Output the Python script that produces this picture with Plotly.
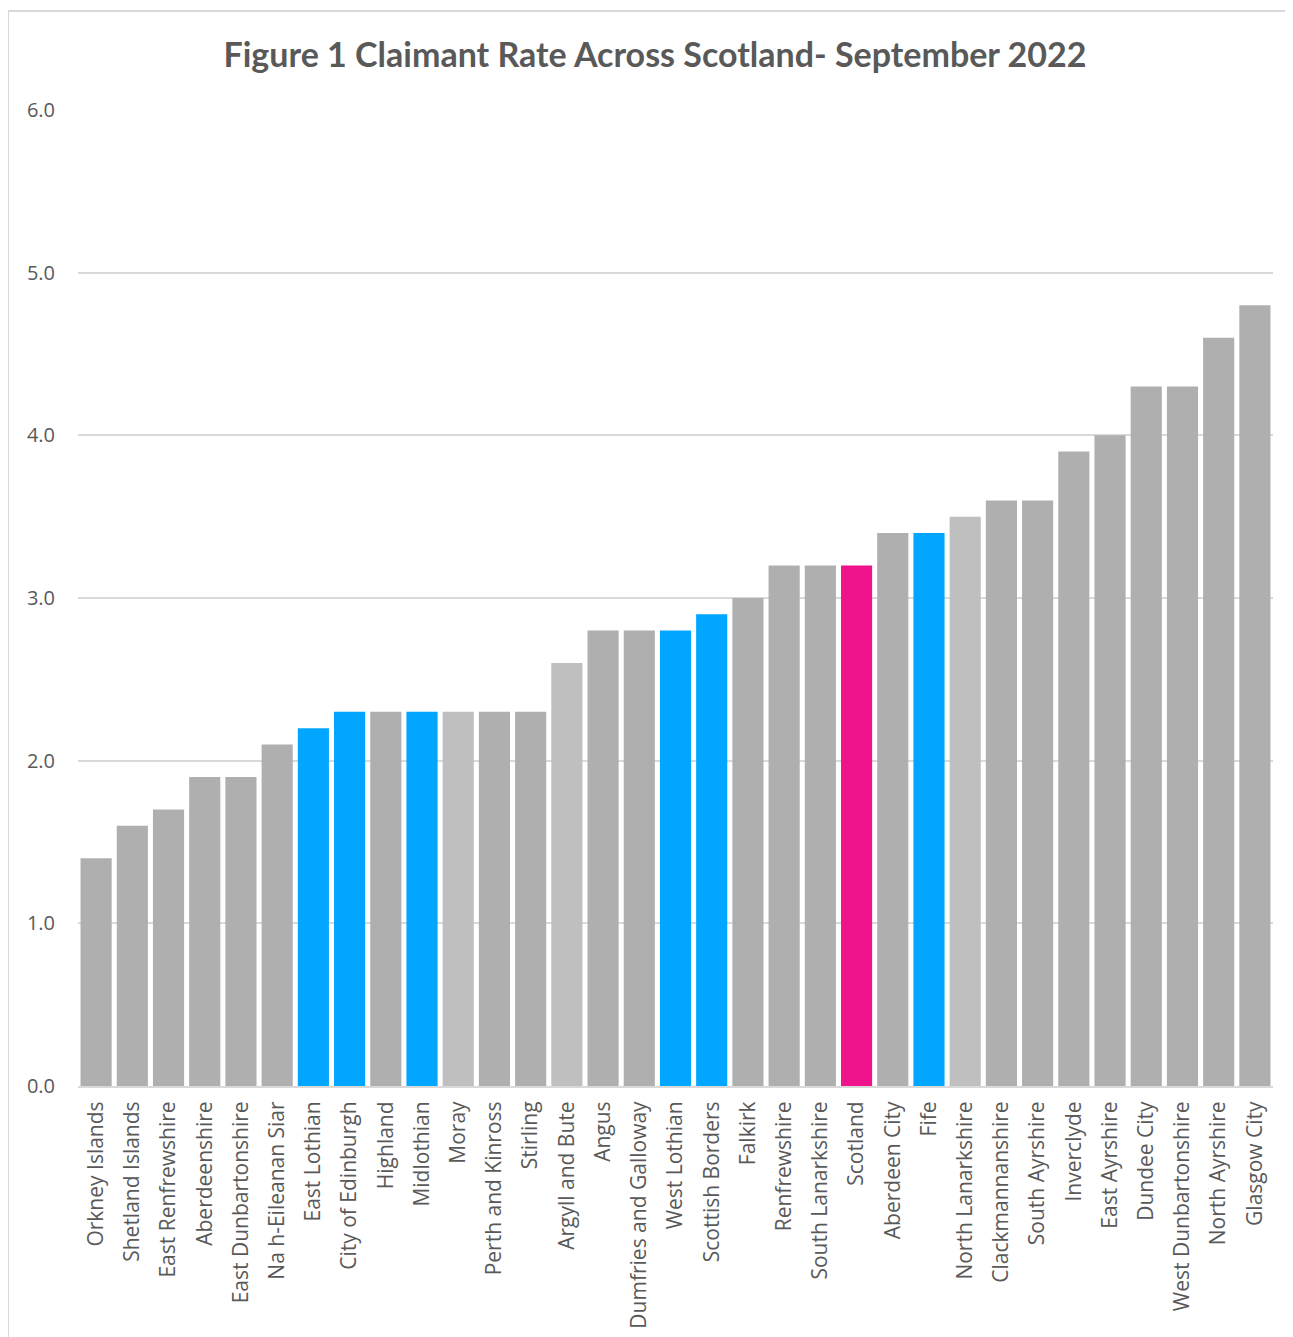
import plotly.graph_objects as go

categories = ["Orkney Islands", "Shetland Islands", "East Renfrewshire", "Aberdeenshire",
              "East Dunbartonshire", "Na h-Eileanan Siar", "East Lothian", "City of Edinburgh",
              "Highland", "Midlothian", "Moray", "Perth and Kinross", "Stirling",
              "Argyll and Bute", "Angus", "Dumfries and Galloway", "West Lothian",
              "Scottish Borders", "Falkirk", "Renfrewshire", "South Lanarkshire", "Scotland",
              "Aberdeen City", "Fife", "North Lanarkshire", "Clackmannanshire", "South Ayrshire",
              "Inverclyde", "East Ayrshire", "Dundee City", "West Dunbartonshire",
              "North Ayrshire", "Glasgow City"]
values = [1.4, 1.6, 1.7, 1.9, 1.9, 2.1, 2.2, 2.3, 2.3, 2.3, 2.3, 2.3, 2.3, 2.6, 2.8, 2.8,
          2.8, 2.9, 3.0, 3.2, 3.2, 3.2, 3.4, 3.4, 3.5, 3.6, 3.6, 3.9, 4.0, 4.3, 4.3, 4.6, 4.8]
groups = ["d", "d", "d", "d", "d", "d", "b", "b", "d", "b", "l", "d", "d", "l", "d", "d",
          "b", "b", "d", "d", "d", "p", "d", "b", "l", "d", "d", "d", "d", "d", "d", "d", "d"]
tick_vals = [0, 1, 2, 3, 4, 5, 6]
tick_text = ["0.0", "1.0", "2.0", "3.0", "4.0", "5.0", "6.0"]

palette = {"d": "#AFAFAF", "l": "#BFBFBF", "b": "#00A6FF", "p": "#F0148C"}
colors = [palette[g] for g in groups]

# page has an 8px body margin; figure coordinates = page coordinates - 8
OFF = 8
W, H = 1293, 1337
L = 78 - OFF
T = 110 - OFF
R = W - (1273 - OFF)
B = H - (1086 - OFF)
pw, ph = W - L - R, H - T - B

def px_x(p):  # page x -> paper x
    return (p - OFF - L) / pw

def px_y(p):  # page y -> paper y
    return (H - B - (p - OFF)) / ph

fig = go.Figure(go.Bar(x=categories, y=values, marker=dict(color=colors, line=dict(width=0)),
                       hoverinfo="x+y"))

fig.update_layout(
    width=W, height=H,
    margin=dict(l=L, r=R, t=T, b=B, autoexpand=False),
    paper_bgcolor="white", plot_bgcolor="white",
    bargap=0.14,
    showlegend=False,
    title=dict(text="<b>Figure 1 Claimant Rate Across Scotland- September 2022</b>",
               x=px_x(655), xref="paper", xanchor="center",
               y=1 - (55 - OFF) / H, yref="container", yanchor="middle",
               font=dict(family="Lato, Open Sans, sans-serif", size=34, color="#595959")),
    font=dict(family="Open Sans, sans-serif", color="#595959"),
    xaxis=dict(tickangle=-90, tickfont=dict(size=21, color="#595959"),
               showline=True, linecolor="#D9D9D9", linewidth=2, ticks="",
               showgrid=False, ticklabelstandoff=5),
    yaxis=dict(range=[0, 6], tickvals=tick_vals, ticktext=tick_text,
               tickfont=dict(size=20, color="#595959"),
               showgrid=True, gridcolor="#D9D9D9", gridwidth=1.5,
               zeroline=False, showline=False, ticks="", ticklabelstandoff=22),
    shapes=[
        dict(type="line", xref="paper", yref="paper",
             x0=px_x(8), x1=px_x(W + 20), y0=px_y(11), y1=px_y(11),
             line=dict(color="#D9D9D9", width=2)),
        dict(type="line", xref="paper", yref="paper",
             x0=px_x(8), x1=px_x(8), y0=px_y(11), y1=px_y(H + 20),
             line=dict(color="#D9D9D9", width=2)),
    ],
)

fig.write_html("out.html")
